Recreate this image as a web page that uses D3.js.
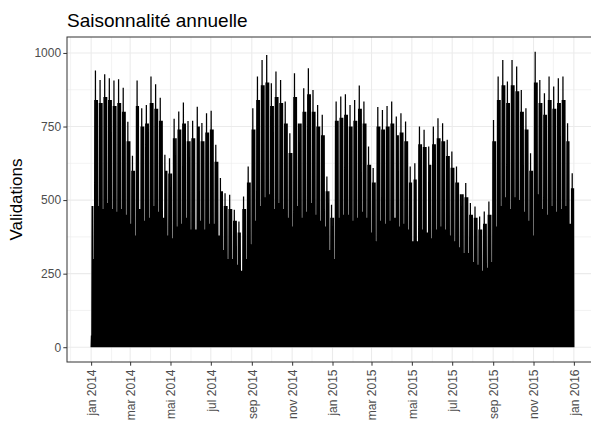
<!DOCTYPE html>
<meta charset="utf-8">
<style>
body {
    margin: 0px;
    background: white;
}
svg text {
    font-family: "Liberation Sans", Arial, sans-serif;
}
</style>
<body>
<script src="https://d3js.org/d3.v7.min.js"></script>
<script>
// periode couverte (une valeur par semaine, semaines commencant le lundi 2013-12-30)
var debut = "2014-01-01",
    fin = "2015-12-31";

// pic hebdomadaire (jour de semaine le plus charge)
var pointeMax = [484, 940, 908, 928, 914, 906, 911, 882, 766, 651,
                 906, 812, 823, 920, 894, 848, 654, 642, 776, 801,
                 832, 769, 770, 817, 762, 795, 804, 688, 575, 523,
                 518, 467, 427, 512, 614, 812, 920, 976, 993, 897,
                 937, 908, 835, 727, 931, 835, 880, 948, 874, 823,
                 790, 580, 484, 835, 852, 860, 823, 840, 889, 835,
                 682, 609, 816, 806, 820, 835, 784, 795, 767, 614,
                 625, 750, 739, 682, 750, 778, 761, 705, 665, 614,
                 563, 558, 490, 478, 444, 461, 495, 772, 920, 976,
                 903, 976, 954, 874, 812, 659, 1004, 908, 863, 920,
                 886, 914, 920, 761, 591, 512];

// niveau des autres jours ouvres
var niveauSemaine = [480, 840, 830, 850, 840, 820, 830, 800, 700, 600,
                     820, 750, 760, 830, 810, 770, 600, 590, 710, 740,
                     760, 700, 710, 750, 700, 730, 740, 630, 530, 480,
                     470, 430, 390, 470, 560, 740, 840, 890, 900, 820,
                     850, 830, 760, 660, 850, 760, 800, 860, 800, 750,
                     720, 530, 440, 770, 780, 790, 750, 770, 810, 760,
                     620, 560, 750, 740, 750, 760, 720, 730, 700, 560,
                     570, 690, 680, 620, 690, 710, 700, 650, 610, 560,
                     520, 510, 450, 440, 400, 420, 450, 700, 840, 890,
                     830, 890, 870, 800, 740, 600, 900, 830, 790, 840,
                     810, 830, 840, 700, 540, 470];

// niveau du week-end
var niveauWeekend = [300, 480, 470, 490, 470, 460, 470, 450, 420, 380,
                     470, 430, 440, 480, 460, 440, 380, 370, 410, 420,
                     440, 400, 400, 430, 400, 420, 420, 380, 330, 300,
                     300, 280, 260, 300, 350, 430, 480, 510, 520, 470,
                     490, 470, 440, 410, 480, 440, 460, 490, 450, 430,
                     410, 330, 300, 440, 450, 450, 430, 440, 460, 440,
                     390, 360, 430, 420, 430, 440, 410, 420, 400, 360,
                     360, 400, 390, 370, 400, 410, 400, 380, 360, 340,
                     320, 320, 290, 280, 260, 270, 290, 410, 480, 510,
                     470, 510, 500, 460, 430, 380, 520, 470, 450, 480,
                     460, 470, 480, 420, 340, 300];

// jours feries / atypiques
var joursAtypiques = ["2014-01-01", "2014-03-14", "2014-04-21", "2014-05-01", "2014-05-08",
                      "2014-05-29", "2014-06-09", "2014-07-14", "2014-08-15", "2014-11-11",
                      "2014-12-25", "2015-01-01", "2015-04-06", "2015-05-01", "2015-05-08",
                      "2015-05-14", "2015-05-25", "2015-07-14", "2015-11-11", "2015-12-25"];
var valeursAtypiques = [40, 30, 100, 80, 150,
                        150, 150, 10, 200, 170,
                        60, 60, 105, 300, 200,
                        200, 200, 100, 200, 60];

var ticksY = [0, 250, 500, 750, 1000];
var moisLabels = ["jan", "fév", "mar", "avr", "mai", "jun",
                  "jul", "aoû", "sep", "oct", "nov", "déc"];

var width = 591, height = 424;
var mLeft = 67, mTop = 37, panelW = 531, panelH = 325;

var parse = d3.timeParse("%Y-%m-%d"),
    fmt = d3.timeFormat("%Y-%m-%d");

var t0 = parse(debut),
    t1 = d3.timeDay.offset(parse(fin), 1),
    lundi0 = d3.timeMonday.floor(t0);

var atyp = new Map(joursAtypiques.map(function(j, i) { return [j, valeursAtypiques[i]]; }));

// serie : chaque jour monte de ~0 (nuit) jusqu'a son pic
var serie = [];
d3.timeDay.range(t0, t1).forEach(function(j) {
    var k = Math.floor(d3.timeDay.count(lundi0, j) / 7);
    var dow = (j.getDay() + 6) % 7;
    var v = dow >= 5 ? niveauWeekend[k] : (dow == 1 ? pointeMax[k] : niveauSemaine[k]);
    if (atyp.has(fmt(j))) v = atyp.get(fmt(j));
    serie.push({t: j, v: 0});
    serie.push({t: d3.timeHour.offset(j, 12), v: v});
});
serie.push({t: t1, v: 0});

var span = t1 - t0;
var x = d3.scaleTime()
    .domain([new Date(+t0 - 0.05 * span), new Date(+t1 + 0.05 * span)])
    .range([mLeft, mLeft + panelW]);

var vmax = d3.max(serie, function(d) { return d.v; });
var y = d3.scaleLinear()
    .domain([-0.05 * vmax, 1.05 * vmax])
    .range([mTop + panelH, mTop]);

var svg = d3.select("body").append("svg")
    .attr("width", width)
    .attr("height", height);

svg.append("defs").append("clipPath").attr("id", "panel")
    .append("rect")
    .attr("x", mLeft).attr("y", mTop)
    .attr("width", panelW).attr("height", panelH);

var grid = svg.append("g");

// grille mineure
var minY = d3.range(ticksY.length - 1).map(function(i) { return (ticksY[i] + ticksY[i + 1]) / 2; });
var ticksX = d3.timeMonth.every(2).range(t0, d3.timeDay.offset(t1, 1));
var minX = d3.timeMonth.range(d3.timeMonth.offset(t0, -1), d3.timeMonth.offset(t1, 2))
    .filter(function(d) { return d.getMonth() % 2 == 1; });

grid.selectAll(".minY").data(minY).enter().append("line")
    .attr("x1", mLeft).attr("x2", mLeft + panelW)
    .attr("y1", function(d) { return y(d); }).attr("y2", function(d) { return y(d); })
    .attr("stroke", "#EBEBEB").attr("stroke-width", 0.6);
grid.selectAll(".minX").data(minX).enter().append("line")
    .attr("y1", mTop).attr("y2", mTop + panelH)
    .attr("x1", function(d) { return x(d); }).attr("x2", function(d) { return x(d); })
    .attr("stroke", "#EBEBEB").attr("stroke-width", 0.6);

// grille majeure
grid.selectAll(".majY").data(ticksY).enter().append("line")
    .attr("x1", mLeft).attr("x2", mLeft + panelW)
    .attr("y1", function(d) { return y(d); }).attr("y2", function(d) { return y(d); })
    .attr("stroke", "#EBEBEB").attr("stroke-width", 1.1);
grid.selectAll(".majX").data(ticksX).enter().append("line")
    .attr("y1", mTop).attr("y2", mTop + panelH)
    .attr("x1", function(d) { return x(d); }).attr("x2", function(d) { return x(d); })
    .attr("stroke", "#EBEBEB").attr("stroke-width", 1.1);

var line = d3.line()
    .x(function(d) { return x(d.t); })
    .y(function(d) { return y(d.v); });

svg.append("path")
    .datum(serie)
    .attr("clip-path", "url(#panel)")
    .attr("d", line)
    .attr("fill", "none")
    .attr("stroke", "black")
    .attr("stroke-width", 1.25)
    .attr("stroke-linejoin", "miter");

// cadre
svg.append("rect")
    .attr("x", mLeft).attr("y", mTop)
    .attr("width", panelW).attr("height", panelH)
    .attr("fill", "none")
    .attr("stroke", "#333333")
    .attr("stroke-width", 1);

// axes
var axY = svg.append("g")
    .attr("transform", "translate(" + mLeft + ",0)")
    .call(d3.axisLeft(y).tickValues(ticksY).tickFormat(d3.format("d"))
        .tickSize(3.7).tickPadding(2.2));
axY.select(".domain").remove();
axY.selectAll("line").attr("stroke", "#333333");
axY.selectAll("text").attr("fill", "#4D4D4D").style("font-size", "12px");

var axX = svg.append("g")
    .attr("transform", "translate(0," + (mTop + panelH) + ")")
    .call(d3.axisBottom(x).tickValues(ticksX).tickSize(3.7)
        .tickFormat(function(d) { return moisLabels[d.getMonth()] + " " + d.getFullYear(); }));
axX.select(".domain").remove();
axX.selectAll("line").attr("stroke", "#333333");
axX.selectAll("text")
    .attr("fill", "#4D4D4D")
    .style("font-size", "12px")
    .attr("transform", "rotate(-90)")
    .attr("x", -7.5)
    .attr("y", 0)
    .attr("dy", "0.35em")
    .style("text-anchor", "end");

// titres
svg.append("text")
    .attr("x", mLeft)
    .attr("y", 26.5)
    .style("font-size", "19px")
    .attr("fill", "black")
    .text("Saisonnalité annuelle");

svg.append("text")
    .attr("transform", "translate(22," + (mTop + panelH / 2) + ") rotate(-90)")
    .attr("text-anchor", "middle")
    .style("font-size", "17px")
    .attr("fill", "black")
    .text("Validations");
</script>
</body>
</html>
